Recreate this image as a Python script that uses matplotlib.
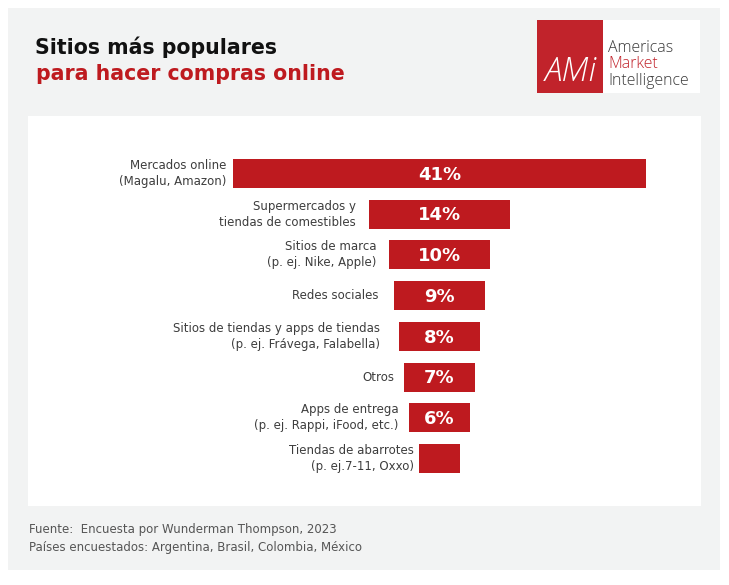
import matplotlib
matplotlib.use("Agg")
import matplotlib.pyplot as plt
from matplotlib.patches import Rectangle

categories = [
    "Mercados online\n(Magalu, Amazon)",
    "Supermercados y\ntiendas de comestibles",
    "Sitios de marca\n(p. ej. Nike, Apple)",
    "Redes sociales",
    "Sitios de tiendas y apps de tiendas\n(p. ej. Frávega, Falabella)",
    "Otros",
    "Apps de entrega\n(p. ej. Rappi, iFood, etc.)",
    "Tiendas de abarrotes\n(p. ej.7-11, Oxxo)",
]
values = [41, 14, 10, 9, 8, 7, 6, 4]
value_labels = ["41%", "14%", "10%", "9%", "8%", "7%", "6%", ""]

# gap between category label and bar, in pixels (layout only)
label_gap_px = [6, 13, 13, 16, 19, 10, 11, 5]

RED = "#be1a1f"
DARK = "#3d3d3d"
W, H = 729, 585
plt.rcParams['font.family'] = ['DejaVu Sans']

fig = plt.figure(figsize=(W / 100, H / 100), dpi=100)
fig.patch.set_facecolor("white")

def px(x, y, w, h):
    return [x / W, 1 - (y + h) / H, w / W, h / H]

# background panel
bg = fig.add_axes([0, 0, 1, 1])
bg.set_xlim(0, W)
bg.set_ylim(H, 0)
bg.axis("off")
bg.add_patch(Rectangle((8, 8), 712, 562, color="#f2f3f3", lw=0))
bg.add_patch(Rectangle((28, 116), 673, 390, color="white", lw=0))
# logo
bg.add_patch(Rectangle((537, 20), 66, 73, color="#c1232b", lw=0))
bg.add_patch(Rectangle((603, 20), 97, 73, color="white", lw=0))
bg.text(571, 81, "AMi", color="white", fontsize=24, ha="center", va="baseline",
        family=["Open Sans", "DejaVu Sans"], fontweight="light", fontstyle="italic")
logo_font = ["Open Sans", "DejaVu Sans"]
bg.text(608, 52, "Americas", color="#3a3a3a", fontsize=11.4, va="baseline",
        fontweight="light", family=logo_font)
bg.text(608, 68, "Market", color="#c1232b", fontsize=11.4, va="baseline",
        fontweight="light", family=logo_font)
bg.text(608, 85, "Intelligence", color="#3a3a3a", fontsize=11.4, va="baseline",
        fontweight="light", family=logo_font)

# title
bg.text(35, 54, "Sitios más populares", color="#111111", fontsize=14.8,
        fontweight="bold", va="baseline", ha="left")
bg.text(36, 80, "para hacer compras online", color=RED, fontsize=14.8,
        fontweight="bold", va="baseline", ha="left")

# footer
bg.text(29, 529, "Fuente:  Encuesta por Wunderman Thompson, 2023", color="#555555",
        fontsize=8.45, va="center")
bg.text(29, 547, "Países encuestados: Argentina, Brasil, Colombia, México", color="#555555",
        fontsize=8.45, va="center")

# chart axes
ax = fig.add_axes(px(231.5, 159, 416, 314))
ax.set_xlim(-20.6, 20.6)
n = len(values)
ax.set_ylim(n - 1 + 0.356, -0.356)
ax.axis("off")
ys = list(range(n))
lefts = [-v / 2 for v in values]
ax.barh(ys, values, left=lefts, height=0.71, color=RED, edgecolor="none")
unit_px = 416 / 41.2
for y, v, lab, cat, gap in zip(ys, values, value_labels, categories, label_gap_px):
    if lab:
        ax.text(0, y + 0.03, lab, color="white", fontsize=13, fontweight="bold",
                ha="center", va="center")
    ax.text(-v / 2 - gap / unit_px, y, cat, color=DARK, fontsize=8.5, ha="right",
            va="center", linespacing=1.3)

fig.savefig("out.png", dpi=100, facecolor="white")
